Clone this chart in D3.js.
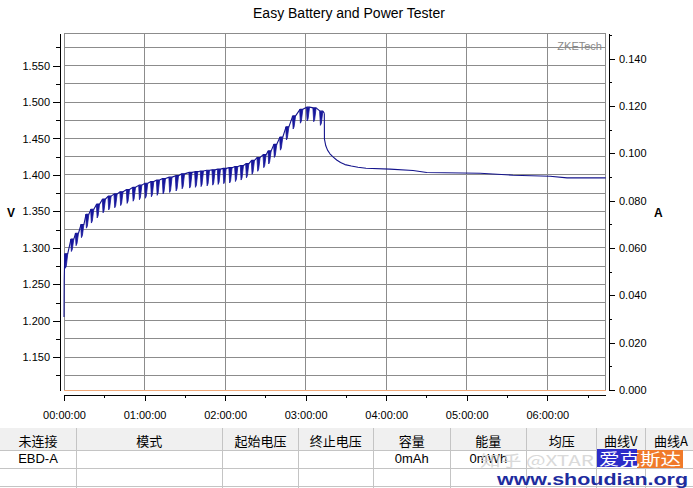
<!DOCTYPE html>
<html><head><meta charset="utf-8">
<script src="https://cdn.jsdelivr.net/npm/d3@7"></script>
<style>
body{margin:0;background:#fff}
svg{display:block}
text{font-family:"Liberation Sans",Arial,sans-serif}
.cjk{font-family:"Noto Sans CJK SC","Liberation Sans",sans-serif}
</style>
</head><body>
<svg id="c" width="693" height="488"></svg>
<script>
// ---------------- data ----------------
const title = "Easy Battery and Power Tester";
const xTickMin = [0, 60, 120, 180, 240, 300, 360];
const xTickLabels = ["00:00:00","01:00:00","02:00:00","03:00:00","04:00:00","05:00:00","06:00:00"];
const xMinorMin = [30, 90, 150, 210, 270, 330, 390];
const vTicks = [1.150, 1.200, 1.250, 1.300, 1.350, 1.400, 1.450, 1.500, 1.550];
const vMinor = [1.125, 1.175, 1.225, 1.275, 1.325, 1.375, 1.425, 1.475, 1.525, 1.575];
const aTicks = [0.000, 0.020, 0.040, 0.060, 0.080, 0.100, 0.120, 0.140];
const aMinor = [0.010, 0.030, 0.050, 0.070, 0.090, 0.110, 0.130, 0.150];

// voltage: initial rise
const startMin = [0, 0.15, 0.4];
const startV   = [1.205, 1.255, 1.276];
// voltage: charge pulses (time of pulse, voltage before pulse, lowest voltage in pulse)
const pulseMin = [0.7, 5.2, 8.7, 12.7, 16.4, 20.1, 24.4, 28.8, 33.0, 37.5, 41.9, 46.7, 51.2, 55.9, 60.3,
  64.8, 69.1, 73.5, 78.4, 83.2, 87.7, 93.3, 97.6, 101.8, 106.3, 110.5, 114.5, 118.7, 123.1, 127.4,
  131.6, 135.6, 139.8, 144.0, 148.5, 152.2, 156.4, 160.9, 165.4, 170.4, 175.8, 180.8, 185.7, 190.7];
const pulseTopV = [1.292, 1.312, 1.320, 1.332, 1.346, 1.353, 1.360, 1.367, 1.371, 1.374, 1.377, 1.380, 1.383, 1.386, 1.3886,
  1.391, 1.393, 1.395, 1.397, 1.399, 1.4015, 1.4035, 1.4045, 1.4055, 1.4065, 1.407, 1.408, 1.409, 1.410, 1.4115,
  1.413, 1.4155, 1.420, 1.424, 1.428, 1.433, 1.442, 1.452, 1.466, 1.481, 1.490, 1.493, 1.492, 1.4875];
const pulseLowV = [1.272, 1.295, 1.303, 1.314, 1.327, 1.334, 1.341, 1.348, 1.352, 1.355, 1.358, 1.361, 1.364, 1.366, 1.368,
  1.370, 1.372, 1.374, 1.376, 1.378, 1.381, 1.382, 1.383, 1.384, 1.385, 1.386, 1.387, 1.388, 1.389, 1.391,
  1.393, 1.396, 1.401, 1.405, 1.410, 1.415, 1.424, 1.434, 1.448, 1.463, 1.471, 1.474, 1.473, 1.468];
// voltage: after charge end
const tailMin = [193.9, 194.0, 195.0, 196.3, 198.1, 200.6, 203.1, 206.0, 209.3, 214.0, 219.0, 225.0, 242.8, 260.0, 270.2, 309.9, 334.5, 362.0, 374.7, 403.5];
const tailV   = [1.4847, 1.449, 1.440, 1.434, 1.429, 1.4245, 1.4205, 1.417, 1.4142, 1.4122, 1.4105, 1.4092, 1.408, 1.406, 1.4033, 1.4024, 1.3996, 1.3983, 1.396, 1.396];
// current
const currentMin = [0, 403.5];
const currentA = [0, 0];

const tableHeaders = ["未连接","模式","起始电压","终止电压","容量","能量","均压","曲线V","曲线A"];
const tableRow1 = ["EBD-A","","","","0mAh","0mWh","","",""];

// ---------------- chart ----------------
const svg = d3.select("#c");
const L = 64, R = 605.7, T = 33.3, B = 390;
const x = d3.scaleLinear().domain([0, 403.5]).range([L, R]);
const yV = d3.scaleLinear().domain([1.105, 1.5943]).range([B, T]);
const yA = d3.scaleLinear().domain([0, 0.1507]).range([B, T]);

svg.append("rect").attr("width", 693).attr("height", 488).attr("fill", "#fff");

// grid
const grid = svg.append("g").attr("stroke", "#8c8c8c").attr("stroke-width", 1).attr("shape-rendering", "crispEdges");
vTicks.concat(vMinor).forEach(v => {
  const yy = Math.floor(yV(v)) + 0.5;
  grid.append("line").attr("x1", L).attr("x2", R + 0.5).attr("y1", yy).attr("y2", yy);
});
xTickMin.forEach(m => {
  const xx = Math.floor(x(m)) + 0.5;
  grid.append("line").attr("x1", xx).attr("x2", xx).attr("y1", T).attr("y2", B);
});
// frame top/right
grid.append("line").attr("x1", L).attr("x2", R + 0.5).attr("y1", 33.5).attr("y2", 33.5);
grid.append("line").attr("x1", 605.5).attr("x2", 605.5).attr("y1", T).attr("y2", B);

// watermark text
svg.append("text").attr("x", 602).attr("y", 50).attr("text-anchor", "end")
  .attr("font-size", 11).attr("fill", "#8a8a8a").text("ZKETech");

// current line
svg.append("path")
  .datum(currentMin.map((m, i) => [m, currentA[i]]))
  .attr("fill", "none").attr("stroke", "#f0a878").attr("stroke-width", 1).attr("shape-rendering", "crispEdges")
  .attr("d", d3.line().x(d => x(d[0])).y(d => Math.floor(yA(d[1])) + 0.5));

// voltage line: thin envelope, thick pulse teeth
const vline = d3.line().x(d => x(d[0])).y(d => yV(d[1]));
const pts = [];
startMin.forEach((m, i) => pts.push([m, startV[i]]));
pulseMin.forEach((m, i) => {
  pts.push([m, pulseTopV[i]]);
  pts.push([m + 0.6, pulseTopV[i]]);
  pts.push([m + 2.1, pulseTopV[i]]);
});
pts.push([tailMin[0], tailV[0]]);
svg.append("path").datum(pts)
  .attr("fill", "none").attr("stroke", "#14148c").attr("stroke-width", 1.1).attr("stroke-linejoin", "round")
  .attr("d", vline);
const teeth = svg.append("g").attr("fill", "#16169c").attr("stroke", "#16169c").attr("stroke-width", 0.8).attr("stroke-linejoin", "round");
pulseMin.forEach((m, i) => {
  teeth.append("path").attr("d", d3.line().x(d => x(d[0])).y(d => yV(d[1]))([
    [m - 0.3, pulseTopV[i]], [m + 0.3, pulseLowV[i]], [m + 1.0, pulseLowV[i] + 0.003], [m + 2.1, pulseTopV[i]]
  ]));
});
svg.append("path").datum(tailMin.map((m, i) => [m, tailV[i]]))
  .attr("fill", "none").attr("stroke", "#14148c").attr("stroke-width", 1.1).attr("stroke-linejoin", "round")
  .attr("d", vline);

// axes
const fmt = d3.format(".3f");
svg.append("g").attr("transform", "translate(60,0)")
  .call(d3.axisLeft(yV).tickValues(vTicks).tickFormat(fmt).tickSize(7).tickSizeOuter(0).tickPadding(3));
svg.append("g").attr("transform", "translate(60,0)")
  .call(d3.axisLeft(yV).tickValues(vMinor).tickFormat("").tickSize(4).tickSizeOuter(0));
svg.append("g").attr("transform", "translate(609,0)")
  .call(d3.axisRight(yA).tickValues(aTicks).tickFormat(fmt).tickSize(6).tickSizeOuter(0).tickPadding(4));
svg.append("g").attr("transform", "translate(609,0)")
  .call(d3.axisRight(yA).tickValues(aMinor).tickFormat("").tickSize(3).tickSizeOuter(0));
svg.append("g").attr("transform", "translate(0,395)")
  .call(d3.axisBottom(x).tickValues(xTickMin).tickFormat((d, i) => xTickLabels[i]).tickSize(6).tickSizeOuter(0).tickPadding(10));
svg.append("g").attr("transform", "translate(0,395)")
  .call(d3.axisBottom(x).tickValues(xMinorMin).tickFormat("").tickSize(3).tickSizeOuter(0));
svg.selectAll(".tick text").attr("font-size", 11).attr("fill", "#000")
  .attr("font-family", '"Liberation Sans",Arial,sans-serif');
svg.selectAll(".domain, .tick line").attr("stroke", "#000").attr("shape-rendering", "crispEdges");

// title and axis names
svg.append("text").attr("x", 349).attr("y", 18).attr("text-anchor", "middle")
  .attr("font-size", 14).attr("fill", "#000").text(title);
svg.append("text").attr("x", 7).attr("y", 217).attr("font-size", 12).attr("font-weight", "bold").text("V");
svg.append("text").attr("x", 654).attr("y", 217).attr("font-size", 12).attr("font-weight", "bold").text("A");

// ---------------- table ----------------
const colX = [0, 76, 222.7, 298.3, 373.3, 450, 526.7, 596.7, 645, 697];
const tbl = svg.append("g");
tbl.append("rect").attr("x", 0).attr("y", 428).attr("width", 693).attr("height", 22).attr("fill", "#f0f0f0");
const tl = tbl.append("g").attr("stroke", "#c4c4c4").attr("shape-rendering", "crispEdges");
[450.5, 468.5, 486.5].forEach(yy => tl.append("line").attr("x1", 0).attr("x2", 693).attr("y1", yy).attr("y2", yy));
colX.slice(1, -1).forEach(cx => {
  const xx = Math.floor(cx) + 0.5;
  tl.append("line").attr("x1", xx).attr("x2", xx).attr("y1", 428).attr("y2", 488);
});
tableHeaders.forEach((h, i) => {
  tbl.append("text").attr("class", "cjk").attr("x", (colX[i] + colX[i + 1]) / 2).attr("y", 446)
    .attr("text-anchor", "middle").attr("font-size", 13).attr("fill", "#000").text(h);
});
tableRow1.forEach((h, i) => {
  if (!h) return;
  tbl.append("text").attr("x", (colX[i] + colX[i + 1]) / 2).attr("y", 463)
    .attr("text-anchor", "middle").attr("font-size", 13).attr("fill", "#000").text(h);
});

// ---------------- image watermark ----------------
const wm = svg.append("g");
wm.append("text").attr("class", "cjk").attr("x", 480).attr("y", 466).attr("font-size", 15)
  .attr("fill", "#d6d6d6").attr("opacity", 0.9).attr("textLength", 114).attr("lengthAdjust", "spacingAndGlyphs").text("知乎 @XTAR");
wm.append("rect").attr("x", 597).attr("y", 449).attr("width", 40).attr("height", 18).attr("fill", "#2c2cc8");
wm.append("rect").attr("x", 637).attr("y", 450).attr("width", 46).attr("height", 18).attr("fill", "#f07a2a");
wm.append("text").attr("class", "cjk").attr("x", 599).attr("y", 465).attr("font-size", 16)
  .attr("fill", "#fff").attr("textLength", 82).attr("lengthAdjust", "spacingAndGlyphs").text("爱克斯达");
wm.append("text").attr("x", 497).attr("y", 485).attr("font-size", 17).attr("font-weight", "bold")
  .attr("font-family", '"DejaVu Sans",sans-serif').attr("fill", "#1e2c9e")
  .attr("textLength", 191).attr("lengthAdjust", "spacingAndGlyphs").text("www.shoudian.org");
</script>
</body></html>
